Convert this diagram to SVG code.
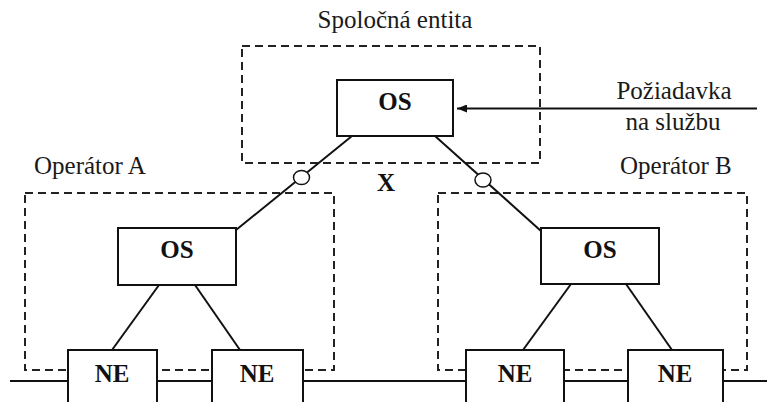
<svg xmlns="http://www.w3.org/2000/svg" width="777" height="402" viewBox="0 0 777 402">
  <style>
    .lbl { font-family: "Liberation Serif", "DejaVu Serif", serif; font-size: 25px; fill: #1a1a1a; }
    .node-txt { font-family: "Liberation Serif", "DejaVu Serif", serif; font-size: 25px; font-weight: bold; fill: #111; text-anchor: middle; }
    .box { fill: #fff; stroke: #111; stroke-width: 2; }
    .zone { fill: none; stroke: #222; stroke-width: 2; stroke-dasharray: 8 5; }
    .wire { fill: none; stroke: #111; stroke-width: 2; }
    .port { fill: #fff; stroke: #111; stroke-width: 1.5; }
  </style>
  <defs>
    <marker id="arrowhead" viewBox="0 0 10 8" refX="10" refY="4" markerWidth="10" markerHeight="8" markerUnits="userSpaceOnUse" orient="auto">
      <path d="M0,0 L10,4 L0,8 z" fill="#111"/>
    </marker>
  </defs>
  <rect width="777" height="402" fill="#fff"/>

  <!-- dashed domain boundaries -->
  <g id="zones">
    <rect class="zone" x="242" y="46" width="298" height="117"/>
    <rect class="zone" x="25" y="193" width="309" height="177"/>
    <rect class="zone" x="438" y="193" width="309" height="177"/>
  </g>

  <!-- domain labels -->
  <text class="lbl" x="395" y="28" text-anchor="middle">Spoločná entita</text>
  <text class="lbl" x="34" y="174">Operátor A</text>
  <text class="lbl" x="620" y="174">Operátor B</text>
  <text class="lbl" x="674" y="99" text-anchor="middle">Požiadavka</text>
  <text class="lbl" x="673" y="130" text-anchor="middle">na službu</text>
  <text class="node-txt" x="386" y="191">X</text>

  <!-- connectors -->
  <g id="connectors">
    <line class="wire" x1="10" y1="381" x2="767" y2="381"/>
    <line class="wire" x1="757" y1="108.5" x2="457" y2="108.5" marker-end="url(#arrowhead)"/>
    <line class="wire" x1="352" y1="136" x2="236" y2="230"/>
    <line class="wire" x1="435" y1="136" x2="541" y2="231"/>
    <line class="wire" x1="159" y1="285" x2="112" y2="350"/>
    <line class="wire" x1="195" y1="285" x2="240" y2="350"/>
    <line class="wire" x1="571" y1="284" x2="523" y2="350"/>
    <line class="wire" x1="626" y1="284" x2="672" y2="350"/>
    <ellipse class="port" cx="301.5" cy="177.5" rx="8" ry="7"/>
    <ellipse class="port" cx="483" cy="180" rx="8" ry="7"/>
  </g>

  <!-- nodes -->
  <g id="os-common">
    <rect class="box" x="337" y="80" width="116" height="56"/>
    <text class="node-txt" x="395" y="110">OS</text>
  </g>
  <g id="os-a">
    <rect class="box" x="118" y="228" width="118" height="57"/>
    <text class="node-txt" x="177" y="258">OS</text>
  </g>
  <g id="os-b">
    <rect class="box" x="541" y="228" width="118" height="56"/>
    <text class="node-txt" x="600" y="258">OS</text>
  </g>
  <g id="ne-a1">
    <rect class="box" x="68" y="350" width="89" height="60"/>
    <text class="node-txt" x="112" y="381.5">NE</text>
  </g>
  <g id="ne-a2">
    <rect class="box" x="212" y="350" width="91" height="60"/>
    <text class="node-txt" x="257" y="381.5">NE</text>
  </g>
  <g id="ne-b1">
    <rect class="box" x="466" y="350" width="98" height="60"/>
    <text class="node-txt" x="515" y="381.5">NE</text>
  </g>
  <g id="ne-b2">
    <rect class="box" x="628" y="350" width="95" height="60"/>
    <text class="node-txt" x="675" y="381.5">NE</text>
  </g>
</svg>
